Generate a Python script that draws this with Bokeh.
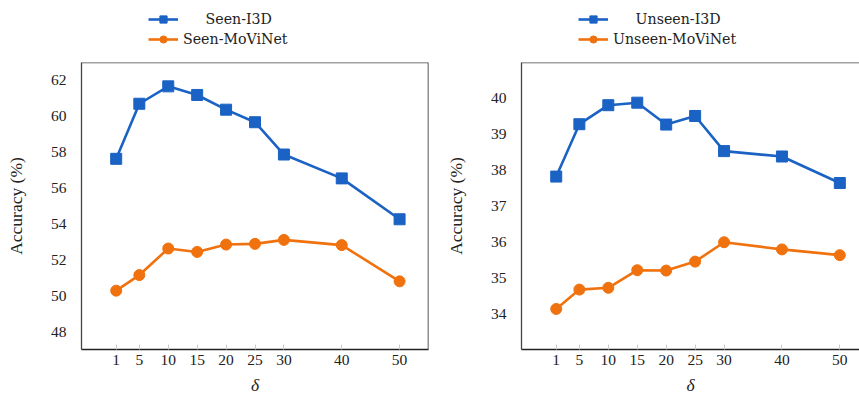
from bokeh.plotting import figure
from bokeh.models import Legend, LegendItem, LinearAxis, Span, FixedTicker, Range1d
from bokeh.layouts import row, column
from bokeh.embed import file_html
from bokeh.resources import INLINE

# ---- data ----
delta = [1, 5, 10, 15, 20, 25, 30, 40, 50]
seen_i3d = [57.63, 60.70, 61.67, 61.19, 60.37, 59.67, 57.87, 56.54, 54.26]
seen_movinet = [50.28, 51.15, 52.63, 52.44, 52.85, 52.89, 53.11, 52.82, 50.80]
unseen_i3d = [37.82, 39.28, 39.81, 39.88, 39.27, 39.51, 38.53, 38.38, 37.64]
unseen_movinet = [34.13, 34.67, 34.72, 35.21, 35.20, 35.45, 35.99, 35.79, 35.63]
seen_yticks = [48, 50, 52, 54, 56, 58, 60, 62]
unseen_yticks = [34, 35, 36, 37, 38, 39, 40]
seen_labels = ["Seen-I3D", "Seen-MoViNet"]
unseen_labels = ["Unseen-I3D", "Unseen-MoViNet"]

BLUE = "#1a62c4"
ORANGE = "#f0720f"
LFONT = "DejaVu Serif"
AFONT = "serif"
NB = "\u00a0"
LEG_H = 60


def make_legend_fig(y1, y2, labels, width, leg_x):
    # legend-only strip above each panel (the series are drawn out of view)
    f = figure(width=width, height=LEG_H, output_backend="svg", toolbar_location=None,
               x_range=Range1d(-1000, -999), y_range=Range1d(-1000, -999),
               min_border=0, x_axis_type=None, y_axis_type=None)
    f.outline_line_color = None
    f.xgrid.visible = False
    f.ygrid.visible = False
    l1 = f.line(delta, y1, line_color=BLUE, line_width=2.6)
    s1 = f.scatter(delta, y1, marker="square", size=11, fill_color=BLUE, line_color=BLUE)
    l2 = f.line(delta, y2, line_color=ORANGE, line_width=2.6)
    s2 = f.scatter(delta, y2, marker="circle", size=11, fill_color=ORANGE, line_color=ORANGE)
    legend = Legend(items=[
        LegendItem(label=NB * 5 + labels[0], renderers=[l1, s1]),
        LegendItem(label=labels[1], renderers=[l2, s2]),
    ], location=(leg_x, 12))
    legend.orientation = "vertical"
    legend.border_line_color = None
    legend.background_fill_alpha = 0
    legend.padding = 0
    legend.margin = 0
    legend.spacing = 2
    legend.glyph_width = 30
    legend.glyph_height = 18
    legend.label_standoff = 5
    legend.label_height = 18
    legend.label_text_font = LFONT
    legend.label_text_font_size = "14.2px"
    legend.label_text_color = "#222222"
    f.add_layout(legend)
    return f


def make_panel(y1, y2, yticks, yr, xend, width, border_left, right_border):
    frame_w = int(round((xend + 5) * 5.785))
    p = figure(width=width, height=397 - LEG_H, output_backend="svg", toolbar_location=None,
               x_range=Range1d(-5, xend), y_range=Range1d(*yr),
               min_border_left=border_left, min_border_right=width - border_left - frame_w,
               min_border_top=2, min_border_bottom=46,
               x_axis_type=None, y_axis_type=None)
    p.outline_line_color = None
    p.background_fill_color = "white"
    p.border_fill_color = "white"

    xb = LinearAxis(ticker=FixedTicker(ticks=delta))
    xb.axis_line_color = "#222222"
    xb.axis_line_width = 1.3
    xb.major_tick_in = 5
    xb.major_tick_out = 0
    xb.major_tick_line_color = "#cccccc"
    xb.minor_tick_line_color = None
    xb.major_label_text_font = AFONT
    xb.major_label_text_font_size = "15.5px"
    xb.major_label_text_color = "#222222"
    xb.major_label_standoff = 5
    xb.axis_label = "δ"
    xb.axis_label_text_font = AFONT
    xb.axis_label_text_font_style = "italic"
    xb.axis_label_text_font_size = "17.5px"
    xb.axis_label_text_color = "#222222"
    xb.axis_label_standoff = 7
    p.add_layout(xb, "below")

    ya = LinearAxis(ticker=FixedTicker(ticks=yticks))
    ya.axis_line_color = "#444444"
    ya.axis_line_width = 1.3
    ya.major_tick_line_color = None
    ya.minor_tick_line_color = None
    ya.major_label_text_font = AFONT
    ya.major_label_text_font_size = "15.5px"
    ya.major_label_text_color = "#222222"
    ya.major_label_standoff = 9
    ya.axis_label = "Accuracy (%)"
    ya.axis_label_text_font = AFONT
    ya.axis_label_text_font_style = "normal"
    ya.axis_label_text_font_size = "17.5px"
    ya.axis_label_text_color = "#222222"
    ya.axis_label_standoff = 22
    p.add_layout(ya, "left")

    p.xgrid.visible = False
    p.ygrid.ticker = FixedTicker(ticks=yticks)
    p.ygrid.grid_line_color = "#cccccc"
    p.ygrid.grid_line_dash = "5 4"
    p.ygrid.grid_line_width = 1

    p.add_layout(Span(location=yr[1], dimension="width", line_color="#444444", line_width=1.5))
    if right_border:
        p.add_layout(Span(location=xend, dimension="height", line_color="#222222", line_width=1.5))

    p.line(delta, y1, line_color=BLUE, line_width=2.6)
    p.scatter(delta, y1, marker="square", size=11, fill_color=BLUE, line_color=BLUE)
    p.line(delta, y2, line_color=ORANGE, line_width=2.6)
    p.scatter(delta, y2, marker="circle", size=11, fill_color=ORANGE, line_color=ORANGE)
    return p


p1 = make_panel(seen_i3d, seen_movinet, seen_yticks, (47, 63), 55, 430, 81, True)
p2 = make_panel(unseen_i3d, unseen_movinet, unseen_yticks, (33, 41), 53.4, 429, 91, False)
g1 = make_legend_fig(seen_i3d, seen_movinet, seen_labels, 430, 67)
g2 = make_legend_fig(unseen_i3d, unseen_movinet, unseen_labels, 429, 57)

layout = row(column(g1, p1, spacing=0), column(g2, p2, spacing=0), spacing=0)
open("out.html", "w").write(file_html(layout, INLINE))
